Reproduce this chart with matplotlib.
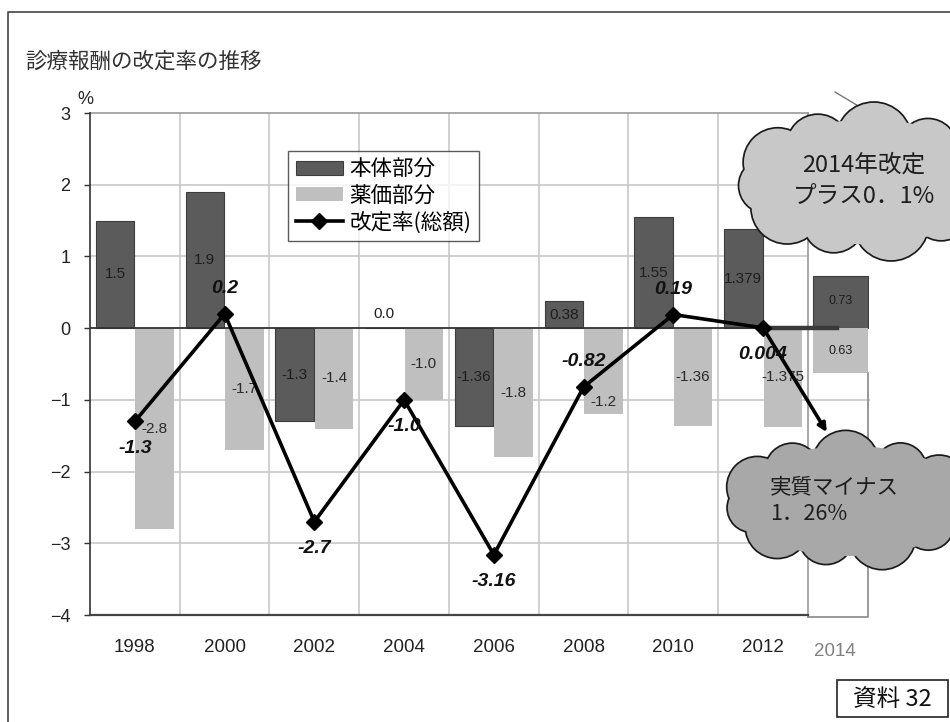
import numpy as np
import matplotlib
matplotlib.use('Agg')
import matplotlib.pyplot as plt
from matplotlib.patches import Circle, Ellipse, Rectangle, Patch
from matplotlib.lines import Line2D
from matplotlib.font_manager import FontProperties

plt.rcParams['font.family'] = ['Liberation Sans', 'Noto Sans CJK JP', 'DejaVu Sans']
plt.rcParams['axes.unicode_minus'] = True

# ---------------- data ----------------
years = ['1998', '2000', '2002', '2004', '2006', '2008', '2010', '2012']
honntai = [1.5, 1.9, -1.3, 0.0, -1.36, 0.38, 1.55, 1.379]          # 本体部分
yakka = [-2.8, -1.7, -1.4, -1.0, -1.8, -1.2, -1.36, -1.375]        # 薬価部分
total = [-1.3, 0.2, -2.7, -1.0, -3.16, -0.82, 0.19, 0.004]         # 改定率(総額)
honntai_labels = ['1.5', '1.9', '-1.3', '0.0', '-1.36', '0.38', '1.55', '1.379']
yakka_labels = ['-2.8', '-1.7', '-1.4', '-1.0', '-1.8', '-1.2', '-1.36', '-1.375']
total_labels = ['-1.3', '0.2', '-2.7', '-1.0', '-3.16', '-0.82', '0.19', '0.004']
year_2014 = '2014'
honntai_2014 = 0.73
yakka_2014 = -0.63
honntai_2014_label = '0.73'
yakka_2014_label = '0.63'
y_ticks = [3, 2, 1, 0, -1, -2, -3, -4]

# ---------------- styles ----------------
DARK = '#5b5b5b'
LIGHT = '#bfbfbf'
GRID = '#c8c8c8'
W, H = 950, 722

fig = plt.figure(figsize=(W / 100, H / 100), dpi=100)
fig.patch.set_facecolor('white')

x_left_px, x_right_px = 90, 869
y_top_px, y_bot_px = 113, 615
ax = fig.add_axes([x_left_px / W, (H - y_bot_px) / H,
                   (x_right_px - x_left_px) / W, (y_bot_px - y_top_px) / H])
ax.set_xlim(-0.5, 8.18)
ax.set_ylim(-4, 3)
for s in ['top', 'right', 'bottom']:
    ax.spines[s].set_visible(False)
ax.spines['left'].set_color('#333333')
ax.spines['left'].set_linewidth(1.2)
ax.patch.set_alpha(0)

n = len(years)
x = np.arange(n)
off, bw = 0.22, 0.43

# grid and frame lines
for yv in [-3, -2, -1]:
    ax.plot([-0.5, 8.18], [yv, yv], color=GRID, lw=1.2, zorder=0.5, clip_on=False)
for yv in [1, 2]:
    ax.plot([-0.5, 7.5], [yv, yv], color=GRID, lw=1.2, zorder=0.5)
for xv in np.arange(0.5, 7.0, 1.0):
    ax.plot([xv, xv], [-4, 3], color=GRID, lw=1.2, zorder=0.5)
ax.plot([-0.5, 7.5], [3, 3], color='#999999', lw=1.2, zorder=0.6, clip_on=False)
ax.plot([7.5, 7.5], [-4.03, 3], color='#999999', lw=1.2, zorder=0.6, clip_on=False)
ax.plot([-0.5, 7.5], [-4, -4], color='#444444', lw=1.6, zorder=3, clip_on=False)
ax.plot([7.5, 8.17, 8.17], [-4.03, -4.03, -0.63], color='#888888', lw=1.2,
        zorder=0.6, clip_on=False)

# bars
ax.bar(x - off, honntai, bw, color=DARK, edgecolor='#3c3c3c', lw=0.8, zorder=2)
ax.bar(x + off, yakka, bw, color=LIGHT, edgecolor='none', zorder=2)
x14 = 7.863
ax.bar([x14], [honntai_2014], 0.61, color=DARK, edgecolor='#3c3c3c', lw=0.8, zorder=2)
ax.bar([x14], [yakka_2014], 0.61, color=LIGHT, edgecolor='none', zorder=2)

ax.plot([-0.5, 7.5], [0, 0], color='#333333', lw=1.3, zorder=2.5)

# bar labels (pixel nudges where the reference moved a label off the line)
yakka_nudge = [0, 0, 0, 0, 0, -31, 0, 0]
for xi, v, t in zip(x - off, honntai, honntai_labels):
    yy = v / 2 if v != 0 else 0.2
    ax.text(xi, yy, t, ha='center', va='center', fontsize=11, color='#1e1e1e', zorder=4)
for xi, v, t, nd in zip(x + off, yakka, yakka_labels, yakka_nudge):
    ax.annotate(t, xy=(xi, v / 2), xytext=(0, nd), textcoords='offset pixels',
                ha='center', va='center', fontsize=11, color='#2a2a2a', zorder=4)
ax.text(x14, honntai_2014 / 2 + 0.02, honntai_2014_label, ha='center', va='center',
        fontsize=9, color='#1e1e1e', zorder=4)
ax.text(x14, yakka_2014 / 2, yakka_2014_label, ha='center', va='center',
        fontsize=9, color='#1e1e1e', zorder=4)

# line
ax.plot(x, total, color='black', lw=2.6, marker='D', markersize=8, zorder=5)
ax.plot([x[-1], 7.82], [0, 0], color='#3a3a3a', lw=3.2, zorder=4.5)
ax.annotate('', xy=(7.71, -1.45), xytext=(x[-1], total[-1]),
            arrowprops=dict(arrowstyle='-|>', lw=2.6, color='black', mutation_scale=12,
                            shrinkA=0, shrinkB=0), zorder=6)

above = [False, True, False, False, False, True, True, False]
lab_font = dict(family=['Liberation Sans Narrow', 'Liberation Sans', 'DejaVu Sans'],
                weight='bold', style='italic', size=14)
for xi, v, t, up in zip(x, total, total_labels, above):
    dy = 25 if up else -27
    ax.annotate(t, xy=(xi, v), xytext=(0, dy), textcoords='offset pixels',
                ha='center', va='center', color='#111111', zorder=6, **lab_font)

# ticks
ax.set_yticks(y_ticks)
ax.tick_params(axis='y', direction='out', length=4, width=1, color='#333333',
               labelsize=13, pad=10, labelcolor='#222222')
ax.set_xticks(x)
ax.set_xticklabels(years)
ax.tick_params(axis='x', length=0, labelsize=13.5, pad=17, labelcolor='#222222')
ax.annotate(year_2014, xy=(7.8, -4), xytext=(0, -37), textcoords='offset pixels',
            ha='center', va='center', fontsize=13.5, color='#808080',
            annotation_clip=False)

# legend
handles = [Patch(facecolor=DARK, edgecolor='#3c3c3c', lw=0.8),
           Patch(facecolor=LIGHT, edgecolor='none'),
           Line2D([], [], color='black', lw=2.6, marker='D', markersize=8)]
leg = ax.legend(handles, ['本体部分', '薬価部分', '改定率(総額)'],
                loc='upper left', bbox_to_anchor=(288 / W, 1 - 151 / H),
                bbox_transform=fig.transFigure, borderaxespad=0,
                prop=FontProperties(family=['Noto Sans CJK JP'], size=15.5),
                frameon=True, fancybox=False, edgecolor='#333333',
                handlelength=2.2, handleheight=0.6, handletextpad=0.3,
                labelspacing=0.2, borderpad=0.35)
leg.get_frame().set_linewidth(1.0)
leg.set_zorder(7)

# ---------------- overlay (decorations in pixel coordinates) ----------------
ov = fig.add_axes([0, 0, 1, 1], zorder=5)
ov.set_xlim(0, W)
ov.set_ylim(H, 0)
ov.axis('off')
ov.patch.set_alpha(0)

ov.plot([8, 8, W], [H, 12, 12], color='#444444', lw=1.2)

ov.text(25, 62, '診療報酬の改定率の推移', ha='left', va='center', fontsize=15.5,
        family=['Noto Sans CJK JP'], color='#333333')
ov.text(85, 100, '%', ha='center', va='center', fontsize=13, color='#222222')

ov.plot([835, 870], [92, 113], color='#777777', lw=1.0)


def cloud(cx, cy, a, b, nb, r, fc, phase=0.0):
    t = np.linspace(0, 2 * np.pi, nb, endpoint=False) + phase
    var = [1.0, 0.85, 1.1, 0.9, 1.05, 0.8, 1.0, 0.9, 1.1, 0.85, 0.95, 1.0, 0.9]
    circ = []
    for i, ti in enumerate(t):
        rr = r * var[i % len(var)]
        circ.append(((cx + (a - r) * np.cos(ti), cy + (b - r) * np.sin(ti)), rr))
    for c, rr in circ:
        ov.add_patch(Circle(c, rr, facecolor=fc, edgecolor='#1a1a1a', lw=2.2, zorder=2))
    for c, rr in circ:
        ov.add_patch(Circle(c, rr - 0.2, facecolor=fc, edgecolor='none', zorder=3))
    ov.add_patch(Ellipse((cx, cy), 2 * (a - r) + 1.2 * r, 2 * (b - r) + 1.2 * r,
                         facecolor=fc, edgecolor='none', zorder=3))


cloud(868, 182, 136, 76, 11, 34, '#c8c8c8', phase=0.2)
cloud(850, 501, 130, 67, 11, 30, '#a8a8a8', phase=0.1)

cfont = dict(family=['Noto Sans CJK JP', 'DejaVu Sans'], color='#1e1e1e', zorder=4)
ov.text(864, 165, '2014年改定', ha='center', va='center', fontsize=17, **cfont)
ov.text(864, 196, 'プラス0．1%', ha='center', va='center', fontsize=17, **cfont)
ov.text(770, 487, '実質マイナス', ha='left', va='center', fontsize=15.5, **cfont)
ov.text(770, 514, '1．26%', ha='left', va='center', fontsize=15.5, **cfont)

ov.add_patch(Rectangle((837, 680), 111, 37, facecolor='white', edgecolor='#222222',
                       lw=1.2, zorder=4))
ov.text(892, 699, '資料 32', ha='center', va='center', fontsize=17,
        family=['Noto Sans CJK JP', 'DejaVu Sans'], color='#111111', zorder=5)

fig.savefig('out.png', dpi=100)
